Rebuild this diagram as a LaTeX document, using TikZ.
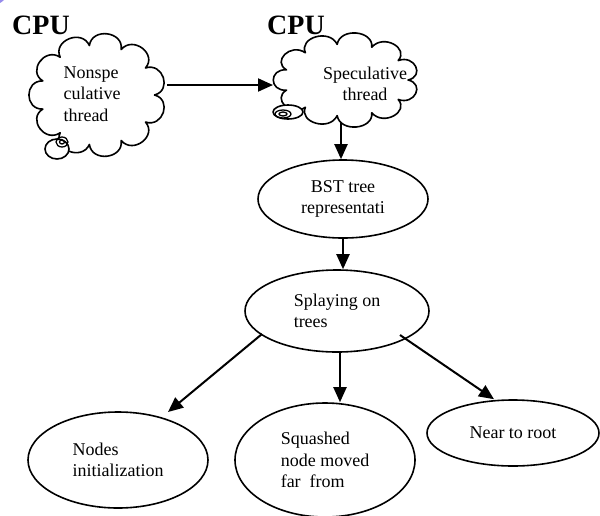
\documentclass[tikz,border=0pt]{standalone}
\usepackage{fontspec}
\setmainfont{Liberation Serif}
\usetikzlibrary{shapes.geometric,arrows.meta,calc}
\definecolor{cornerpurple}{RGB}{150,140,235}
\newcommand\mycloudpath[6]{% cx cy rx ry n d
  \pgfmathsetmacro\cstep{360/#5}
  \path[shp] ({#1+#3*cos(0)},{#2+#4*sin(0)})
  \foreach \i in {1,...,#5}{
    .. controls ({#1+(#3+#6)*cos((\i-1)*\cstep+0.12*\cstep)},{#2+(#4+#6)*sin((\i-1)*\cstep+0.12*\cstep)})
       and ({#1+(#3+#6)*cos(\i*\cstep-0.12*\cstep)},{#2+(#4+#6)*sin(\i*\cstep-0.12*\cstep)})
    .. ({#1+#3*cos(\i*\cstep)},{#2+#4*sin(\i*\cstep)})
  } -- cycle;
}
\begin{document}
\begin{tikzpicture}[x=1pt,y=-1pt,
  txt/.style={font=\fontsize{18}{21.5}\selectfont, inner sep=0pt},
  cpu/.style={font=\fontsize{28}{30}\selectfont\bfseries, inner sep=0pt, anchor=base west},
  shp/.style={draw, line width=1.6pt, fill=white, line join=round},
  ell/.style={shp, ellipse, inner sep=0pt, font=\fontsize{18}{21.5}\selectfont},
  anchorshape/.style={ellipse, inner sep=0pt},
  arr/.style={line width=2pt, -{Triangle[length=15pt,width=13pt]}}
]
\useasboundingbox (0,0) rectangle (600,515);
% corner decoration
\fill[cornerpurple] (-8,-12) circle (17);
% cloud 1
\mycloudpath{97.5}{95}{57}{50}{11}{18}
\node[anchorshape, minimum width=139pt, minimum height=117pt] (cl1) at (97.5,93.5) {};
\draw[shp] (57,149) ellipse [x radius=12, y radius=10];
\draw[line width=1.3pt] (62,142) ellipse [x radius=6, y radius=5];
\draw[line width=1.3pt] (62,142) ellipse [x radius=2.5, y radius=2];
\node[txt, align=left] (t1) at (92,94) {Nonspe\\culative\\thread};
% cloud 2
\mycloudpath{346}{80}{62}{36}{11}{17}
\node[anchorshape, minimum width=145pt, minimum height=88pt] (cl2) at (345.5,79) {};
\draw[shp] (288,112) ellipse [x radius=15, y radius=7];
\draw[line width=1.3pt] (283,114) ellipse [x radius=8, y radius=4];
\draw[line width=1.3pt] (283,114) ellipse [x radius=4, y radius=2];
\node[txt, align=center] (t2) at (365,84) {Speculative\\thread};
% CPU labels
\node[cpu] (cpu1) at (12,34) {CPU};
\node[cpu] (cpu2) at (267,34) {CPU};
% ellipses
\node[ell, minimum width=170pt, minimum height=78pt, align=center] (bst) at (343,199) {BST tree\\representati};
\node[ell, minimum width=184pt, minimum height=82pt, align=left] (spl) at (337,311) {Splaying on\\trees};
\node[ell, minimum width=180pt, minimum height=96pt, align=left] (nodes) at (118,460) {Nodes\\initialization};
\node[ell, minimum width=180pt, minimum height=114pt, align=left] (sq) at (325,460) {Squashed\\node moved\\far\ \ from};
\node[ell, minimum width=172pt, minimum height=66pt, align=center] (near) at (513,433) {Near to root};
% connectors
\draw[arr] ($(cl1.center)+(69.5,-8.5)$) -- ($(cl2.center)+(-72.5,6)$);
\draw[arr] ($(bst.north)+(-2,-37)$) -- ($(bst.north)+(-2,0)$);
\draw[arr] (bst.south) -- (bst.south |- spl.north);
\draw[arr] ($(spl.center)+(-75,23)$) -- ($(nodes.center)+(50,-48)$);
\draw[arr] ($(spl.south)+(3,0)$) -- ($(sq.north)+(15,0)$);
\draw[arr] ($(spl.center)+(63,24)$) -- ($(near.north)+(-19,0)$);
\end{tikzpicture}
\end{document}
